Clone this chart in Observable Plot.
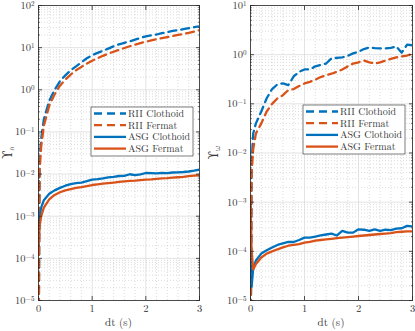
<!DOCTYPE html>
<html>
<head>
<meta charset="utf-8">
<script src="https://cdn.jsdelivr.net/npm/d3@7"></script>
<script src="https://cdn.jsdelivr.net/npm/@observablehq/plot@0.6"></script>
<style>
  html, body { margin: 0; padding: 0; background: #fff; }
  #wrap { position: relative; width: 415px; height: 331px; overflow: hidden; background: #fff; }
  #wrap > div, #wrap > svg { position: absolute; top: 0; }
  #wrap svg, #wrap svg text, #wrap svg tspan { font-family: "Latin Modern Roman", "Latin Modern Math", "DejaVu Serif", serif !important; }
</style>
</head>
<body>
<div id="wrap"></div>
<script>
// ---------- data ----------
const dt = [0, 0.02, 0.05, 0.1, 0.2, 0.3, 0.4, 0.5, 0.6, 0.7, 0.8, 0.9, 1.0,
  1.1, 1.2, 1.3, 1.4, 1.5, 1.6, 1.7, 1.8, 1.9, 2.0, 2.1, 2.2, 2.3, 2.4, 2.5,
  2.6, 2.7, 2.8, 2.9, 3.0];

const seriesNames = ["RII Clothoid", "RII Fermat", "ASG Clothoid", "ASG Fermat"];

// left panel: Upsilon_a
const accRIIClothoid = [1e-7, 0.02, 0.07, 0.2, 0.55, 1.0, 1.6, 2.2, 2.9, 3.6, 4.5, 5.6, 6.6,
  7.5, 8.4, 9.5, 10.8, 12, 13, 14, 15.5, 17, 18.5, 19.5, 20.5, 22, 23.5, 25,
  26, 27.5, 29, 30.5, 32];
const accRIIFermat = [1e-7, 0.012, 0.045, 0.14, 0.42, 0.78, 1.25, 1.75, 2.3, 2.9, 3.5, 4.2, 4.9,
  5.6, 6.4, 7.2, 8.0, 8.9, 9.8, 10.8, 11.8, 12.8, 13.8, 14.8, 15.8, 16.8, 17.8, 18.8,
  20, 21.2, 22.5, 24, 26];
const accASGClothoid = [2e-4, 1.0e-3, 1.6e-3, 2.4e-3, 3.4e-3, 4.1e-3, 4.7e-3, 5.3e-3, 5.8e-3, 6.1e-3, 6.3e-3, 6.8e-3, 7.4e-3,
  7.6e-3, 7.9e-3, 8.3e-3, 8.6e-3, 9.0e-3, 9.1e-3, 9.9e-3, 9.4e-3, 9.8e-3, 1.06e-2, 1.05e-2, 1.04e-2, 1.07e-2, 1.05e-2, 1.09e-2,
  1.1e-2, 1.12e-2, 1.15e-2, 1.2e-2, 1.27e-2];
const accASGFermat = [1.8e-4, 6e-4, 1.0e-3, 1.6e-3, 2.5e-3, 3.2e-3, 3.7e-3, 4.1e-3, 4.4e-3, 4.7e-3, 4.9e-3, 5.2e-3, 5.5e-3,
  5.7e-3, 5.9e-3, 6.1e-3, 6.3e-3, 6.5e-3, 6.7e-3, 6.9e-3, 7.0e-3, 7.2e-3, 7.4e-3, 7.5e-3, 7.7e-3, 7.9e-3, 8.0e-3, 8.2e-3,
  8.4e-3, 8.6e-3, 8.9e-3, 9.2e-3, 9.4e-3];

// right panel: Upsilon_omega
const omgRIIClothoid = [1e-7, 0.006, 0.025, 0.04, 0.07, 0.13, 0.2, 0.25, 0.26, 0.24, 0.36, 0.45, 0.5,
  0.5, 0.58, 0.62, 0.66, 0.84, 0.86, 0.88, 0.95, 1.06, 1.15, 1.3, 1.4, 1.36, 1.34, 1.34,
  1.38, 1.47, 1.1, 1.6, 1.55];
const omgRIIFermat = [1e-7, 0.004, 0.012, 0.025, 0.04, 0.07, 0.1, 0.13, 0.15, 0.19, 0.2, 0.23, 0.26,
  0.28, 0.31, 0.35, 0.38, 0.41, 0.45, 0.5, 0.58, 0.66, 0.7, 0.76, 0.7, 0.66, 0.7, 0.76,
  0.82, 0.88, 0.92, 0.96, 1.05];
const omgASGClothoid = [2.8e-4, 1.9e-5, 4.5e-5, 6.5e-5, 9e-5, 1.05e-4, 1.2e-4, 1.35e-4, 1.45e-4, 1.55e-4, 1.55e-4, 1.7e-4, 1.9e-4,
  1.9e-4, 2.0e-4, 2.1e-4, 2.2e-4, 2.3e-4, 2.1e-4, 2.6e-4, 2.4e-4, 2.4e-4, 2.8e-4, 2.75e-4, 2.6e-4, 2.8e-4, 2.6e-4, 2.75e-4,
  2.7e-4, 2.9e-4, 2.95e-4, 3.3e-4, 3.2e-4];
const omgASGFermat = [1.2e-3, 1.0e-4, 4.3e-5, 5.5e-5, 7.5e-5, 9e-5, 1.0e-4, 1.1e-4, 1.2e-4, 1.3e-4, 1.35e-4, 1.4e-4, 1.5e-4,
  1.55e-4, 1.65e-4, 1.7e-4, 1.75e-4, 1.8e-4, 1.85e-4, 1.9e-4, 1.95e-4, 2.0e-4, 2.05e-4, 2.1e-4, 2.15e-4, 2.2e-4, 2.25e-4, 2.3e-4,
  2.35e-4, 2.45e-4, 2.5e-4, 2.55e-4, 2.55e-4];

const xTicks = [0, 1, 2, 3];
const xLabel = "dt (s)";
const accTicks = [1e-5, 1e-4, 1e-3, 1e-2, 1e-1, 1e0, 1e1, 1e2];
const omgTicks = [1e-5, 1e-4, 1e-3, 1e-2, 1e-1, 1e0, 1e1];

// ---------- styling ----------
const BLUE = "#0072BD", ORANGE = "#D95319";
const styles = {
  "RII Clothoid": {stroke: BLUE, dash: "8,5"},
  "RII Fermat": {stroke: ORANGE, dash: "8,5"},
  "ASG Clothoid": {stroke: BLUE, dash: null},
  "ASG Fermat": {stroke: ORANGE, dash: null}
};
const FONT = "'Latin Modern Roman', 'Latin Modern Math', 'DejaVu Serif', serif";
const AX = "#262626";
const TXT = "#333";

function toRows(arrays) {
  const rows = [];
  seriesNames.forEach((name, i) => {
    arrays[i].forEach((v, j) => rows.push({series: name, dt: dt[j], v}));
  });
  return rows;
}

function minorDecades(ticks) {
  const out = [];
  for (let i = 0; i < ticks.length - 1; i++)
    for (let m = 2; m <= 9; m++) out.push(ticks[i] * m);
  return out;
}
const minorX = d3.range(0.2, 3, 0.2).filter(d => Math.abs(d - Math.round(d)) > 1e-6);

function panel({width, marginLeft, marginRight, yTicks, arrays, subscript, labelX, legend}) {
  const rows = toRows(arrays);
  const yMinor = minorDecades(yTicks);
  const marks = [
    Plot.gridX(minorX, {stroke: "#c4c4c4", strokeOpacity: 1, strokeDasharray: "1,2", strokeWidth: 0.6}),
    Plot.gridY(yMinor, {stroke: "#c4c4c4", strokeOpacity: 1, strokeDasharray: "1,2", strokeWidth: 0.6}),
    Plot.gridX(xTicks, {stroke: "#dcdcdc", strokeOpacity: 1, strokeWidth: 0.8}),
    Plot.gridY(yTicks, {stroke: "#dcdcdc", strokeOpacity: 1, strokeWidth: 0.8})
  ];
  for (const name of seriesNames) {
    const st = styles[name];
    marks.push(Plot.line(rows.filter(r => r.series === name), {
      x: "dt", y: "v", stroke: st.stroke, strokeWidth: 2.3,
      strokeDasharray: st.dash, clip: true
    }));
  }
  marks.push(
    Plot.frame({stroke: AX, strokeWidth: 0.8}),
    Plot.axisX(xTicks, {anchor: "bottom", tickSize: 0, tickPadding: 4, fontSize: 10.5, fill: TXT}),
    Plot.axisX(xTicks, {anchor: "bottom", tickSize: -4, tickFormat: () => "", stroke: AX, strokeWidth: 0.8}),
    Plot.axisX(xTicks, {anchor: "top", tickSize: -4, tickFormat: () => "", stroke: AX, strokeWidth: 0.8}),
    Plot.axisY(yTicks, {anchor: "left", tickSize: 0, tickPadding: 4, fontSize: 10.5, fill: TXT,
      tickFormat: d => "10^" + Math.round(Math.log10(d))}),
    Plot.axisY(yTicks, {anchor: "left", tickSize: -4, tickFormat: () => "", stroke: AX, strokeWidth: 0.8}),
    Plot.axisY(yTicks, {anchor: "right", tickSize: -4, tickFormat: () => "", stroke: AX, strokeWidth: 0.8}),
    Plot.axisY(yMinor, {anchor: "left", tickSize: -2, tickFormat: () => "", stroke: AX, strokeWidth: 0.6}),
    Plot.axisY(yMinor, {anchor: "right", tickSize: -2, tickFormat: () => "", stroke: AX, strokeWidth: 0.6})
  );
  const svg = Plot.plot({
    width, height: 331, marginLeft, marginRight, marginTop: 5, marginBottom: 31,
    style: {fontFamily: FONT, fontSize: "10.5px", background: "white", color: TXT},
    x: {domain: [0, 3], label: null},
    y: {type: "log", domain: [yTicks[0], yTicks[yTicks.length - 1]], label: null},
    marks
  });

  // superscript exponents in y tick labels
  d3.select(svg).selectAll('g[aria-label="y-axis tick label"] text').each(function () {
    const t = this.textContent;
    if (!t.startsWith("10^")) return;
    const exp = t.slice(3).replace("-", "\u2212");
    const sel = d3.select(this);
    sel.text("10");
    sel.append("tspan").attr("dy", "-0.4em").attr("font-size", "7px").text(exp);
  });

  const s = d3.select(svg);
  const H = 331, bottom = H - 31;
  // x label
  s.append("text").attr("x", marginLeft + (width - marginLeft - marginRight) / 2).attr("y", 326)
    .attr("text-anchor", "middle").attr("font-size", "11px").attr("fill", TXT)
    .attr("font-family", FONT).text(xLabel);
  // y label
  const yl = s.append("text")
    .attr("transform", `translate(${labelX},${(5 + bottom) / 2}) rotate(-90)`)
    .attr("text-anchor", "middle").attr("font-size", "12px").attr("fill", TXT)
    .attr("font-family", FONT);
  yl.append("tspan").text("\u03D2");
  yl.append("tspan").attr("dy", "0.25em").attr("font-size", "8px").text(subscript);

  // legend
  const g = s.append("g").attr("font-family", FONT).attr("font-size", "10px").attr("text-anchor", "start");
  g.append("rect").attr("x", legend.x).attr("y", legend.y).attr("width", 102).attr("height", 49)
    .attr("fill", "white").attr("stroke", AX).attr("stroke-width", 0.6);
  seriesNames.forEach((name, i) => {
    const cy = legend.y + 6.5 + i * 11.7;
    const st = styles[name];
    g.append("line").attr("x1", legend.x + 3).attr("x2", legend.x + 35).attr("y1", cy).attr("y2", cy)
      .attr("stroke", st.stroke).attr("stroke-width", 2.3).attr("stroke-dasharray", st.dash);
    g.append("text").attr("x", legend.x + 37).attr("y", cy).attr("dy", "0.35em")
      .attr("text-anchor", "start").attr("fill", TXT).text(name);
  });
  return svg;
}

const wrap = document.getElementById("wrap");
const left = panel({width: 207, marginLeft: 38, marginRight: 8, yTicks: accTicks,
  arrays: [accRIIClothoid, accRIIFermat, accASGClothoid, accASGFermat],
  subscript: "a", labelX: 12, legend: {x: 91, y: 107}});
left.style.left = "0px";
const right = panel({width: 208, marginLeft: 43, marginRight: 3, yTicks: omgTicks,
  arrays: [omgRIIClothoid, omgRIIFermat, omgASGClothoid, omgASGFermat],
  subscript: "\u03C9", labelX: 11, legend: {x: 96, y: 105}});
right.style.left = "207px";
wrap.appendChild(left);
wrap.appendChild(right);
</script>
</body>
</html>
